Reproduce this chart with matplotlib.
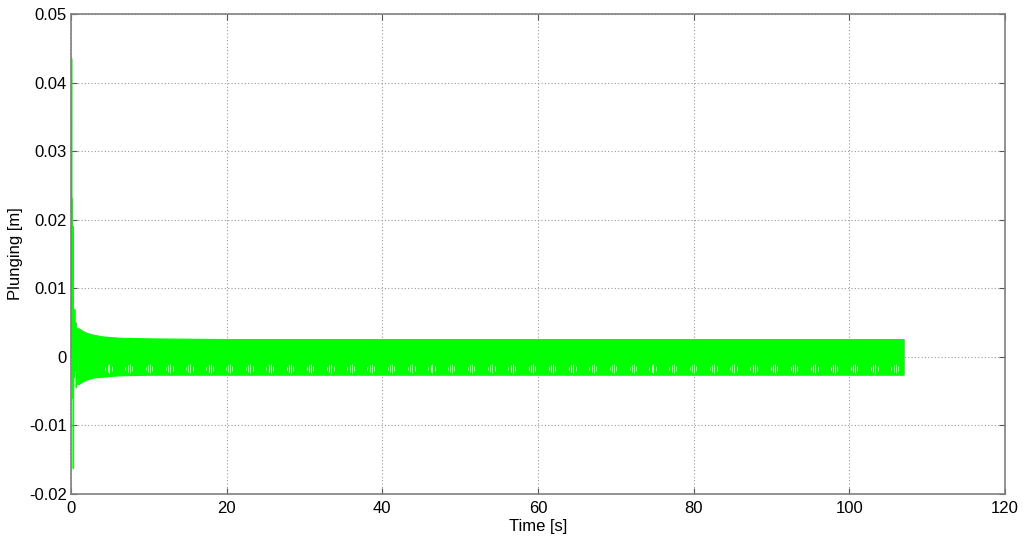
import matplotlib
matplotlib.use("Agg")
import matplotlib.pyplot as plt

# Initial transient (time [s], plunging [m])
spike_t = [0.0, 0.08, 0.13, 0.18, 0.22, 0.27, 0.31, 0.36, 0.42, 0.48, 0.55, 0.62, 0.70, 0.78, 0.86, 0.95]
spike_y = [0.0, 0.0435, 0.0140, 0.0230, -0.0060, 0.0190, -0.0163, 0.0060, -0.0030, 0.0069, -0.0020, 0.0050, -0.0045, 0.0042, -0.0040, 0.0040]

# Envelope of the steady oscillation
env_t = [0.95, 1.5, 2.0, 3.0, 4.0, 5.0, 6.0, 8.0, 10.0, 15.0, 20.0, 40.0, 60.0, 80.0, 100.0, 107.0]
env_upper = [0.0042, 0.0038, 0.0035, 0.0032, 0.0030, 0.0029, 0.0028, 0.00275, 0.0027, 0.00265, 0.0026, 0.0026, 0.0026, 0.0026, 0.0026, 0.0026]
env_lower = [-0.0040, -0.0036, -0.0033, -0.0030, -0.0029, -0.0028, -0.0027, -0.00265, -0.0026, -0.0026, -0.0026, -0.0026, -0.0026, -0.0026, -0.0026, -0.0026]

# Times of the small white gaps (aliasing pattern) inside the band
gap_t = [4.8, 7.4, 10.0, 12.6, 15.2, 17.8, 20.3, 22.9, 25.5, 28.1, 30.7, 33.3, 35.9, 38.5,
         41.1, 43.7, 46.3, 48.8, 51.4, 54.0, 56.6, 59.2, 61.8, 64.4, 67.0, 69.6, 72.2, 74.7,
         77.3, 79.9, 82.5, 85.1, 87.7, 90.3, 92.9, 95.5, 98.0, 100.6, 103.2, 105.8]
gap_center = -0.0017

x_ticks = [0, 20, 40, 60, 80, 100, 120]
y_ticks = [-0.02, -0.01, 0, 0.01, 0.02, 0.03, 0.04, 0.05]
y_labels = ["-0.02", "-0.01", "0", "0.01", "0.02", "0.03", "0.04", "0.05"]

plt.rcParams['font.family'] = ['Liberation Sans', 'DejaVu Sans']
fig = plt.figure(figsize=(10.24, 5.43), dpi=100)
ax = fig.add_axes([0.0693, 0.0902, 0.912, 0.884])

green = "#00ff00"
ax.fill_between(env_t, env_lower, env_upper, color=green, linewidth=0.8, edgecolor=green)
ax.plot(spike_t, spike_y, color=green, linewidth=1.0)

# light gap pattern: short dashes per cluster
offsets = [-0.4, -0.1, 0.15, 0.45]
halfh = [0.0002, 0.0005, 0.0006, 0.0003]
for t in gap_t:
    for dx, h in zip(offsets, halfh):
        ax.vlines(t + dx, gap_center - h, gap_center + h, color="#d8ffd8", linewidth=0.6)

ax.set_xlim(0, 120)
ax.set_ylim(-0.02, 0.05)
ax.set_xticks(x_ticks)
ax.set_yticks(y_ticks)
ax.set_yticklabels(y_labels)
ax.tick_params(direction="in", length=4, labelsize=12, color="#555555",
               top=True, right=True)
ax.tick_params(axis="x", pad=5)
ax.tick_params(axis="y", pad=3)
ax.grid(True, linestyle=(0, (1, 2)), color="#999999", linewidth=0.8)
ax.set_axisbelow(True)
for s in ax.spines.values():
    s.set_color("#808080")
    s.set_linewidth(1.2)

ax.set_xlabel("Time [s]", fontsize=12, labelpad=2)
ax.set_ylabel("Plunging [m]", fontsize=12, labelpad=4)

fig.savefig("out.png", dpi=100)
